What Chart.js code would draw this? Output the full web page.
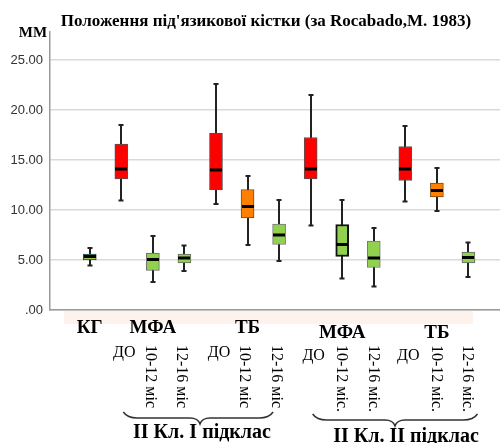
<!DOCTYPE html>
<html>
<head>
<meta charset="utf-8">
<script src="https://cdn.jsdelivr.net/npm/chart.js@4"></script>
<style>body{margin:0;background:#fff}</style>
</head>
<body>
<canvas id="boxChart" width="500" height="443"></canvas>
<script>
// box plot data: whiskers, quartiles and medians per group (mm)
const categories = ['КГ', 'ДО', '10-12 міс', '12-16 міс', 'ДО', '10-12 міс', '12-16 міс',
                    'ДО', '10-12 міс.', '12-16 міс.', 'ДО', '10-12 міс.', '12-16 міс.'];
const whiskerLow  = [4.45, 10.95, 2.8, 3.9, 10.6, 6.5, 4.9, 8.45, 3.15, 2.35, 10.85, 9.9, 3.3];
const q1          = [5.0, 13.1, 3.95, 4.7, 12.0, 9.2, 6.55, 13.1, 5.35, 4.25, 12.95, 11.3, 4.7];
const median      = [5.35, 14.1, 5.05, 5.2, 14.0, 10.35, 7.5, 14.1, 6.55, 5.2, 14.1, 11.95, 5.25];
const q3          = [5.6, 16.6, 5.7, 5.6, 17.7, 12.05, 8.6, 17.25, 8.55, 6.9, 16.35, 12.7, 5.8];
const whiskerHigh = [6.2, 18.5, 7.4, 6.45, 22.6, 13.4, 11.0, 21.5, 11.0, 8.2, 18.4, 14.2, 6.75];

const groupLabels = ['КГ', 'МФА', 'ТБ', 'МФА', 'ТБ'];
const groupCenter = [0, 2, 5, 8, 11];
const classLabels = ['ІІ Кл. І підклас', 'ІІ Кл. ІІ підклас'];
const classRange  = [[1, 6], [7, 12]];
const yTicks = [0, 5, 10, 15, 20, 25];

const RED = '#ff0000', ORANGE = '#ff8000', GREEN = '#92d050';
const boxColors  = [GREEN, RED, GREEN, GREEN, RED, ORANGE, GREEN, RED, GREEN, GREEN, RED, ORANGE, GREEN];
const boxBorders = ['#1f3864', '#555', '#666', '#666', '#555', '#7a4a10', '#777',
                    '#555', '#111', '#777', '#555', '#7a4a10', '#666'];
const boxBorderW = [1, 1, 1, 1, 1, 1, 1, 1, 2, 1, 1, 1, 1];

const SERIF = '"Liberation Serif", "Times New Roman", serif';

function brace(ctx, x1, x2, tip, yTop, yMid, yTip) {
  ctx.beginPath();
  ctx.moveTo(x1, yTop);
  ctx.quadraticCurveTo(x1 + 4, yMid, x1 + 14, yMid);
  ctx.lineTo(tip - 10, yMid);
  ctx.quadraticCurveTo(tip - 2, yMid, tip, yTip);
  ctx.quadraticCurveTo(tip + 2, yMid, tip + 10, yMid);
  ctx.lineTo(x2 - 14, yMid);
  ctx.quadraticCurveTo(x2 - 4, yMid, x2, yTop);
  ctx.stroke();
}

const boxPlotExtras = {
  id: 'boxPlotExtras',
  beforeDatasetsDraw(chart) {
    const {ctx, scales: {x, y}} = chart;
    ctx.save();
    ctx.strokeStyle = '#222';
    ctx.lineWidth = 2;
    categories.forEach((c, i) => {
      const px = Math.round(x.getPixelForValue(i));
      const top = y.getPixelForValue(whiskerHigh[i]);
      const bot = y.getPixelForValue(whiskerLow[i]);
      ctx.beginPath();
      ctx.moveTo(px, top); ctx.lineTo(px, bot);
      ctx.moveTo(px - 2.5, top); ctx.lineTo(px + 2.5, top);
      ctx.moveTo(px - 2.5, bot); ctx.lineTo(px + 2.5, bot);
      ctx.stroke();
    });
    ctx.restore();
  },
  afterDatasetsDraw(chart) {
    const {ctx, scales: {x, y}} = chart;
    ctx.save();
    ctx.strokeStyle = '#000';
    ctx.lineWidth = 3;
    categories.forEach((c, i) => {
      const px = Math.round(x.getPixelForValue(i));
      const py = y.getPixelForValue(median[i]);
      ctx.beginPath();
      ctx.moveTo(px - 6, py); ctx.lineTo(px + 6, py);
      ctx.stroke();
    });
    ctx.restore();
  },
  afterDraw(chart) {
    const {ctx, scales: {x}} = chart;
    ctx.save();
    // band under the axis
    ctx.fillStyle = '#fdf2ec';
    ctx.fillRect(64, 311, 409, 13);

    ctx.fillStyle = '#000';
    ctx.textAlign = 'center';
    ctx.textBaseline = 'middle';
    ctx.font = 'bold 17px ' + SERIF;
    ctx.fillText("Положення під'язикової кістки (за Rocabado,M. 1983)", 266, 22);
    ctx.font = 'bold 15px ' + SERIF;
    ctx.fillText('ММ', 33, 33);

    ctx.font = 'bold 19px ' + SERIF;
    groupLabels.forEach((t, k) => {
      ctx.fillText(t, x.getPixelForValue(groupCenter[k]), k < 3 ? 328 : 333);
    });

    ctx.font = '16px ' + SERIF;
    categories.forEach((t, i) => {
      if (i === 0) return;
      const px = x.getPixelForValue(i);
      if (t === 'ДО') {
        ctx.textAlign = 'center';
        ctx.fillText(t, px + 3, i < 7 ? 353 : 356);
      } else {
        ctx.save();
        ctx.translate(px - (i < 7 ? 3 : 1), 345);
        ctx.rotate(Math.PI / 2);
        ctx.textAlign = 'left';
        ctx.fillText(t, 0, 0);
        ctx.restore();
      }
    });

    ctx.strokeStyle = '#333';
    ctx.lineWidth = 1.5;
    ctx.font = 'bold 20px ' + SERIF;
    ctx.textAlign = 'center';
    classLabels.forEach((t, k) => {
      const [a, b] = classRange[k];
      const x1 = x.getPixelForValue(a) + 2;
      const x2 = x.getPixelForValue(b) + (k === 0 ? -6 : 9);
      const tip = k === 0 ? 200 : 395;
      brace(ctx, x1, x2, tip, k === 0 ? 412 : 414, k === 0 ? 418 : 420, k === 0 ? 424 : 426);
      ctx.fillText(t, k === 0 ? 202 : 406, k === 0 ? 433 : 437);
    });
    ctx.restore();
  }
};

new Chart(document.getElementById('boxChart'), {
  type: 'bar',
  data: {
    datasets: [{
      label: 'Положення під\'язикової кістки',
      data: categories.map((c, i) => ({x: i, y: [q1[i], q3[i]]})),
      backgroundColor: boxColors,
      borderColor: boxBorders,
      borderWidth: boxBorderW,
      borderSkipped: false,
      barThickness: 13
    }]
  },
  options: {
    responsive: false,
    animation: false,
    layout: {padding: {top: 32, left: 0, right: 0, bottom: 133}},
    plugins: {legend: {display: false}, tooltip: {enabled: false}},
    scales: {
      x: {
        type: 'linear',
        offset: false,
        min: -1.26,
        max: 13,
        grid: {display: false, drawTicks: false},
        ticks: {display: false},
        border: {color: '#9a9a9a', width: 1.5},
        afterFit(scale) { scale.height = 0; }
      },
      y: {
        min: 0,
        max: 27.8,
        afterBuildTicks(scale) { scale.ticks = yTicks.map(v => ({value: v})); },
        afterFit(scale) { scale.width = 50; },
        grid: {color: '#d9d9d9', lineWidth: 1.5, drawTicks: false},
        border: {color: '#9a9a9a', width: 1.5},
        ticks: {
          padding: 7,
          color: '#333',
          font: {family: '"Liberation Sans", Arial, sans-serif', size: 13},
          callback: v => v === 0 ? '.00' : v.toFixed(2)
        }
      }
    }
  },
  plugins: [boxPlotExtras]
});
</script>
</body>
</html>
